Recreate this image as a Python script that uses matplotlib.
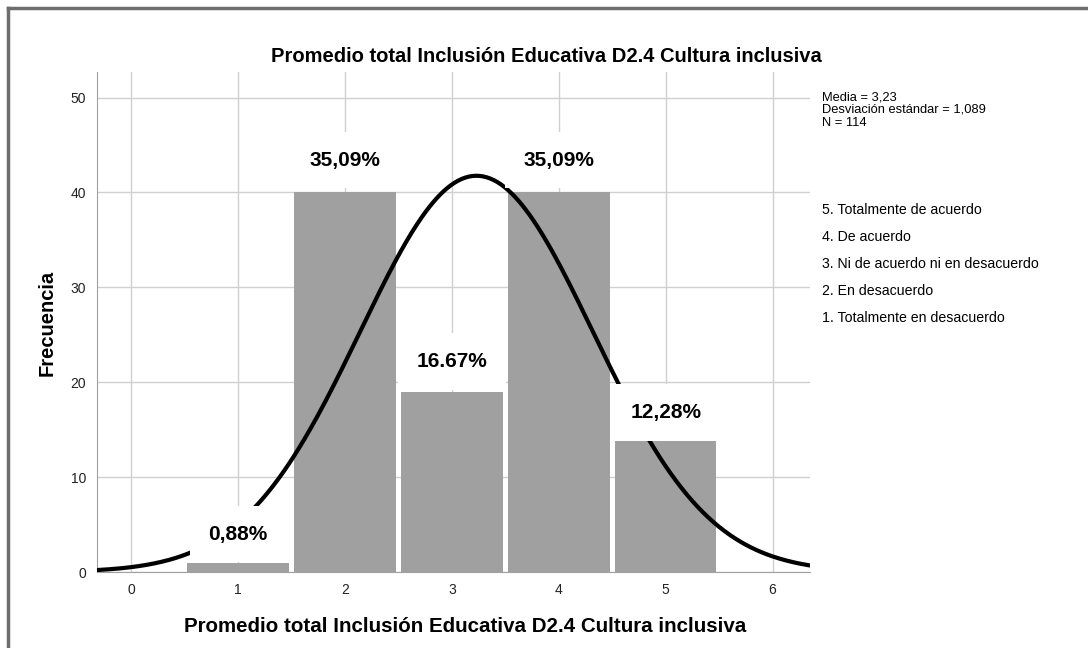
import numpy as np
import matplotlib
matplotlib.use("Agg")
import matplotlib.pyplot as plt
from matplotlib.lines import Line2D

categories = [1, 2, 3, 4, 5]
counts = [1, 40, 19, 40, 14]
pct_labels = ["0,88%", "35,09%", "16.67%", "35,09%", "12,28%"]
mean_val = 3.23
sd_val = 1.089
n_val = 114
legend_items = ["5. Totalmente de acuerdo", "4. De acuerdo",
                "3. Ni de acuerdo ni en desacuerdo", "2. En desacuerdo",
                "1. Totalmente en desacuerdo"]
stats_text = "Media = 3,23\nDesviación estándar = 1,089\nN = 114"
xticks = [0, 1, 2, 3, 4, 5, 6]
yticks = [0, 10, 20, 30, 40, 50]

plt.rcParams['font.family'] = ['Liberation Sans', 'DejaVu Sans']

fig = plt.figure(figsize=(10.88, 6.48), dpi=100)
ax = fig.add_axes([97/1088, 1-572/648, (810-97)/1088, (572-72)/648])

ax.set_xlim(-0.32, 6.35)
ax.set_ylim(0, 52.7)
ax.set_xticks(xticks)
ax.set_yticks(yticks)
ax.grid(True, color='#d0d0d0', linewidth=1)
ax.set_axisbelow(True)

ax.bar(categories, counts, width=0.95, color='#a0a0a0', edgecolor='none', zorder=2)

xs = np.linspace(-0.32, 6.35, 400)
ys = n_val * 1.0 / (sd_val * np.sqrt(2 * np.pi)) * np.exp(-0.5 * ((xs - mean_val) / sd_val) ** 2)
ax.plot(xs, ys, color='black', linewidth=3, zorder=3)

label_y = [4.0, 43.4, 22.2, 43.4, 16.8]
for c, ly, t in zip(categories, label_y, pct_labels):
    ax.text(c, ly, t, ha='center', va='center', fontsize=15,
            fontweight='bold', zorder=5,
            bbox=dict(boxstyle='square,pad=0.9', fc='white', ec='none'))

for s in ['top', 'right']:
    ax.spines[s].set_visible(False)
for s in ['left', 'bottom']:
    ax.spines[s].set_color('#a0a0a0')
ax.tick_params(length=0, labelsize=10, colors='#222222', pad=8)

fig.text(546/1088, 1-56/648, "Promedio total Inclusión Educativa D2.4 Cultura inclusiva",
         fontsize=14.5, fontweight='bold', ha='center', va='center')
fig.text(465/1088, 1-626/648, "Promedio total Inclusión Educativa D2.4 Cultura inclusiva",
         fontsize=14.8, fontweight='bold', ha='center', va='center')
fig.text(47/1088, 1-323/648, "Frecuencia", fontsize=14.5, fontweight='bold',
         rotation=90, ha='center', va='center')

fig.text(822/1088, 1-91/648, stats_text, fontsize=9.3, va='top', ha='left',
         linespacing=1.1)
for i, t in enumerate(legend_items):
    fig.text(822/1088, 1-(210 + 27*i)/648, t, fontsize=10.2,
             va='center', ha='left')

# outer frame (top and left)
fig.add_artist(Line2D([8/1088, 1], [1-8/648, 1-8/648], color='#6e6e6e', linewidth=2.5,
                      transform=fig.transFigure))
fig.add_artist(Line2D([8/1088, 8/1088], [0, 1-8/648], color='#6e6e6e', linewidth=2.5,
                      transform=fig.transFigure))

fig.savefig("out.png", dpi=100)
